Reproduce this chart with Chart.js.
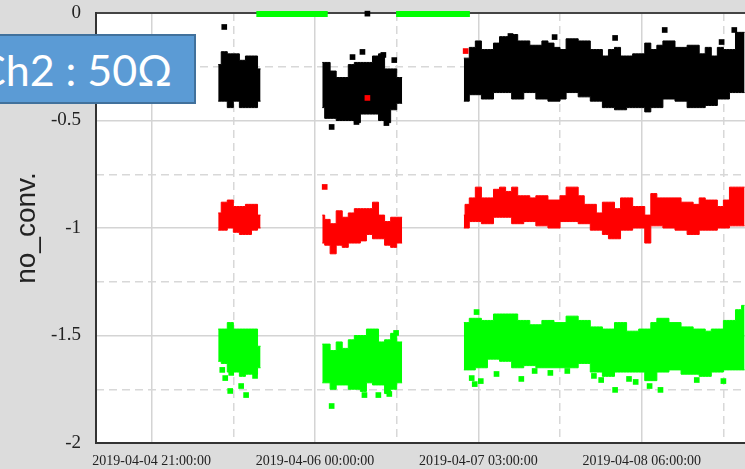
<!DOCTYPE html>
<html>
<head>
<meta charset="utf-8">
<script src="https://cdn.jsdelivr.net/npm/chart.js@4.4.1/dist/chart.umd.min.js"></script>
<style>
  html, body { margin: 0; padding: 0; background: #dcdcdc; overflow: hidden; width: 745px; height: 469px; }
  #wrap { position: relative; width: 800px; height: 469px; }
  #tag { position: absolute; left: -30px; top: 34px; width: 226px; height: 70px; box-sizing: border-box;
         background: #5b9bd5; border: 2px solid #41719c; color: #fff; font: 43px Lato, sans-serif;
         display: flex; align-items: center; justify-content: flex-end; padding-right: 22px; white-space: nowrap; }
</style>
</head>
<body>
<div id="wrap">
  <canvas id="chart" width="800" height="469"></canvas>
  <div id="tag">Ch2 : 50Ω</div>
</div>
<script>
// x values are hours since 2019-04-04 21:00:00
const t0 = Date.UTC(2019, 3, 4, 21);
const xMin = -9.2, xMax = 106.5;
const majorHours = [0, 27, 54, 81];
const minorHours = [13.5, 40.5, 67.5, 94.5];
const yMinor = [-1.75, -1.25, -0.75, -0.25];

// run 1
const hours1 = [11, 12, 13, 14, 15, 16, 17, 18];
const blkHi1 = [-0.24, -0.18, -0.19, -0.19, -0.22, -0.2, -0.2, -0.26];
const blkLo1 = [-0.41, -0.41, -0.44, -0.41, -0.44, -0.44, -0.44, -0.41];
const redHi1 = [-0.93, -0.88, -0.87, -0.9, -0.9, -0.89, -0.89, -0.94];
const redLo1 = [-1.01, -1.01, -1.0, -1.02, -1.03, -1.03, -1.01, -1.0];
const grnHi1 = [-1.47, -1.47, -1.44, -1.47, -1.47, -1.47, -1.47, -1.55];
const grnLo1 = [-1.62, -1.63, -1.67, -1.67, -1.69, -1.68, -1.68, -1.65];

// run 2
const hours2 = [28.2, 29, 30, 31, 32, 33, 34, 35, 36, 37, 38, 39, 40, 41, 41.4];
const blkHi2 = [-0.23, -0.23, -0.27, -0.3, -0.3, -0.24, -0.23, -0.23, -0.23, -0.2, -0.19, -0.26, -0.26, -0.3, -0.3];
const blkLo2 = [-0.44, -0.49, -0.49, -0.5, -0.5, -0.5, -0.51, -0.47, -0.47, -0.47, -0.5, -0.51, -0.45, -0.42, -0.42];
const redHi2 = [-0.94, -0.96, -0.98, -0.92, -0.95, -0.93, -0.91, -0.91, -0.91, -0.88, -0.94, -0.97, -0.95, -0.95, -0.95];
const redLo2 = [-1.07, -1.08, -1.12, -1.08, -1.09, -1.07, -1.07, -1.06, -1.03, -1.05, -1.05, -1.08, -1.09, -1.07, -1.07];
const grnHi2 = [-1.54, -1.54, -1.57, -1.53, -1.56, -1.52, -1.5, -1.5, -1.47, -1.47, -1.53, -1.52, -1.49, -1.53, -1.53];
const grnLo2 = [-1.72, -1.72, -1.75, -1.73, -1.73, -1.75, -1.75, -1.76, -1.72, -1.73, -1.73, -1.77, -1.75, -1.72, -1.72];

// run 3
const hours3 = [51.6, 52, 53, 54, 55, 56, 57, 58, 59, 60, 61, 62, 63, 64, 65, 66, 67, 68, 69, 70, 71, 72, 73, 74,
  75, 76, 77, 78, 79, 80, 81, 82, 83, 84, 85, 86, 87, 88, 89, 90, 91, 92, 93, 94, 95, 96, 97, 98];
const blkHi3 = [-0.21, -0.21, -0.16, -0.13, -0.17, -0.17, -0.14, -0.11, -0.11, -0.10, -0.13, -0.13, -0.15, -0.15, -0.13, -0.14,
  -0.16, -0.17, -0.12, -0.12, -0.13, -0.13, -0.17, -0.17, -0.2, -0.17, -0.16, -0.2, -0.2, -0.19, -0.19, -0.14,
  -0.17, -0.15, -0.13, -0.13, -0.16, -0.16, -0.15, -0.15, -0.19, -0.16, -0.2, -0.16, -0.17, -0.17, -0.09, -0.09];
const blkLo3 = [-0.41, -0.41, -0.38, -0.38, -0.4, -0.4, -0.37, -0.37, -0.37, -0.4, -0.4, -0.37, -0.37, -0.4, -0.4, -0.41,
  -0.41, -0.4, -0.37, -0.37, -0.39, -0.39, -0.41, -0.41, -0.44, -0.44, -0.45, -0.45, -0.44, -0.44, -0.44, -0.46,
  -0.44, -0.44, -0.4, -0.4, -0.41, -0.41, -0.44, -0.44, -0.44, -0.43, -0.43, -0.4, -0.4, -0.37, -0.37, -0.37];
const redHi3 = [-0.94, -0.89, -0.86, -0.81, -0.86, -0.86, -0.82, -0.81, -0.83, -0.81, -0.85, -0.85, -0.86, -0.85, -0.85, -0.87,
  -0.87, -0.85, -0.81, -0.81, -0.85, -0.89, -0.89, -0.93, -0.88, -0.88, -0.91, -0.86, -0.86, -0.9, -0.9, -0.94,
  -0.84, -0.86, -0.86, -0.86, -0.86, -0.88, -0.88, -0.89, -0.86, -0.87, -0.87, -0.9, -0.87, -0.81, -0.81, -0.81];
const redLo3 = [-1.0, -1.0, -0.97, -0.97, -0.98, -0.98, -0.95, -0.95, -0.95, -0.98, -0.98, -0.97, -0.97, -0.99, -0.99, -1.0,
  -1.0, -0.97, -0.97, -0.97, -0.98, -0.98, -1.01, -1.01, -1.03, -1.05, -1.05, -1.01, -1.01, -1.0, -1.0, -1.07,
  -0.99, -0.99, -1.0, -1.0, -1.01, -1.01, -1.03, -1.03, -1.01, -1.01, -1.01, -1.0, -1.0, -0.99, -0.99, -0.99];
const grnHi3 = [-1.44, -1.44, -1.42, -1.42, -1.43, -1.43, -1.4, -1.4, -1.4, -1.4, -1.43, -1.43, -1.45, -1.45, -1.43, -1.43,
  -1.44, -1.44, -1.41, -1.41, -1.43, -1.43, -1.46, -1.46, -1.47, -1.47, -1.44, -1.44, -1.48, -1.48, -1.47, -1.47,
  -1.44, -1.42, -1.42, -1.44, -1.44, -1.46, -1.46, -1.47, -1.47, -1.48, -1.47, -1.47, -1.43, -1.43, -1.38, -1.36];
const grnLo3 = [-1.66, -1.66, -1.66, -1.65, -1.65, -1.61, -1.61, -1.62, -1.62, -1.65, -1.65, -1.64, -1.64, -1.65, -1.65, -1.65,
  -1.65, -1.65, -1.65, -1.65, -1.63, -1.63, -1.67, -1.67, -1.69, -1.69, -1.67, -1.67, -1.67, -1.67, -1.67, -1.71,
  -1.71, -1.67, -1.67, -1.66, -1.66, -1.68, -1.68, -1.68, -1.69, -1.69, -1.67, -1.67, -1.66, -1.66, -1.66, -1.66];

// stray points
const blkDotHours = [12.0, 35.66, 33.2, 34.84, 38.3, 40.1, 29.75, 33.85, 38.8, 59.3, 66.6, 76.6, 84.8, 94.2, 96.3];
const blkDotVals = [-0.065, -0.003, -0.205, -0.181, -0.195, -0.219, -0.53, -0.507, -0.512, -0.107, -0.112, -0.116, -0.079, -0.135, -0.079];
const redDotHours = [28.6, 35.66, 51.9];
const redDotVals = [-0.809, -0.395, -0.177];
const grnDotHours = [11.67, 12.16, 13.15, 12.98, 14.79, 15.61, 17.09, 29.75, 37.47, 39.28, 35.17, 40.4, 52.9, 54.4, 53.4,
  57.0, 61.1, 63.3, 65.9, 68.7, 73.1, 74.3, 76.6, 78.9, 80.0, 82.3, 84.1, 90.1, 94.5, 53.7];
const grnDotVals = [-1.66, -1.698, -1.674, -1.758, -1.735, -1.777, -1.688, -1.828, -1.777, -1.772, -1.777, -1.488, -1.698, -1.712, -1.726,
  -1.679, -1.702, -1.665, -1.674, -1.665, -1.688, -1.707, -1.753, -1.702, -1.716, -1.735, -1.753, -1.707, -1.712, -1.391];
// green readings stuck at 0 during the gaps
const grnZeroStart = [17.3, 40.4];
const grnZeroEnd = [29.1, 52.6];
const grnZeroVal = -0.005;

const BLACK = '#000000', RED = '#ff0000', GREEN = '#00ff00';

function fmt(h) {
  const d = new Date(t0 + h * 3600000);
  const p = n => String(n).padStart(2, '0');
  return d.getUTCFullYear() + '-' + p(d.getUTCMonth() + 1) + '-' + p(d.getUTCDate()) + ' ' +
    p(d.getUTCHours()) + ':' + p(d.getUTCMinutes()) + ':' + p(d.getUTCSeconds());
}

function band(hours, hi, lo, color) {
  const common = { type: 'line', borderColor: color, backgroundColor: color, borderWidth: 1,
    pointRadius: 0, stepped: 'middle', order: 2 };
  return [
    Object.assign({}, common, { data: hours.map((h, i) => ({ x: h, y: lo[i] })), fill: false }),
    Object.assign({}, common, { data: hours.map((h, i) => ({ x: h, y: hi[i] })), fill: '-1' })
  ];
}

function dots(hours, vals, color, order) {
  return { type: 'scatter', data: hours.map((h, i) => ({ x: h, y: vals[i] })), pointStyle: 'rect',
    pointRadius: 4, pointBorderWidth: 0, backgroundColor: color, borderColor: color, clip: false, order: order };
}

const datasets = [].concat(
  band(hours1, blkHi1, blkLo1, BLACK), band(hours2, blkHi2, blkLo2, BLACK), band(hours3, blkHi3, blkLo3, BLACK),
  band(hours1, redHi1, redLo1, RED), band(hours2, redHi2, redLo2, RED), band(hours3, redHi3, redLo3, RED),
  band(hours1, grnHi1, grnLo1, GREEN), band(hours2, grnHi2, grnLo2, GREEN), band(hours3, grnHi3, grnLo3, GREEN),
  [dots(blkDotHours, blkDotVals, BLACK, 1), dots(redDotHours, redDotVals, RED, 0), dots(grnDotHours, grnDotVals, GREEN, 1)],
  grnZeroStart.map((s, i) => ({ type: 'line', data: [{ x: s, y: grnZeroVal }, { x: grnZeroEnd[i], y: grnZeroVal }],
    borderColor: GREEN, borderWidth: 6, pointRadius: 0, clip: false, order: 0 }))
);

const plotBg = {
  id: 'plotBg',
  beforeDraw(chart) {
    const { ctx, chartArea: a } = chart;
    ctx.save();
    ctx.fillStyle = '#ffffff';
    ctx.fillRect(a.left, a.top, a.right - a.left, a.bottom - a.top);
    ctx.restore();
  }
};

const serif = 'Liberation Serif';
new Chart(document.getElementById('chart'), {
  type: 'scatter',
  data: { datasets: datasets },
  plugins: [plotBg],
  options: {
    responsive: false,
    animation: false,
    layout: { padding: { top: 13, left: 0, right: 0, bottom: 0 } },
    plugins: { legend: { display: false }, tooltip: { enabled: false } },
    scales: {
      x: {
        type: 'linear', position: 'bottom', min: xMin, max: xMax,
        afterBuildTicks: s => { s.ticks = majorHours.map(v => ({ value: v })); },
        afterFit: s => { s.height = 26; },
        ticks: { callback: v => fmt(v), font: { family: serif, size: 14 }, color: '#222', padding: 10, autoSkip: false, maxRotation: 0 },
        grid: { color: '#d4d4d4', lineWidth: 1.5, drawTicks: false },
        border: { color: '#333', width: 2 }
      },
      x2: {
        type: 'linear', position: 'top', min: xMin, max: xMax,
        afterBuildTicks: s => { s.ticks = minorHours.map(v => ({ value: v })); },
        afterFit: s => { s.height = 0; },
        ticks: { display: false },
        grid: { color: '#d8d8d8', lineWidth: 1.5, drawTicks: false },
        border: { display: false, dash: [8, 5] }
      },
      y: {
        type: 'linear', min: -2, max: 0,
        afterFit: s => { s.width = 96; },
        ticks: { stepSize: 0.5, callback: v => String(v), font: { family: serif, size: 19 }, color: '#222', padding: 0 },
        grid: {
          color: c => (c.tick && c.tick.value === 0 ? '#444' : '#d4d4d4'),
          lineWidth: c => (c.tick && c.tick.value === 0 ? 2 : 1.5),
          drawTicks: true, tickLength: 15, tickColor: 'rgba(0,0,0,0)'
        },
        border: { color: '#333', width: 2 },
        title: { display: true, text: 'no_conv.', font: { family: 'Liberation Sans', size: 28 }, color: '#222', padding: { top: 10, bottom: 0 } }
      },
      y2: {
        type: 'linear', position: 'right', min: -2, max: 0,
        afterBuildTicks: s => { s.ticks = yMinor.map(v => ({ value: v })); },
        afterFit: s => { s.width = 0; },
        ticks: { display: false },
        grid: { color: '#d8d8d8', lineWidth: 1.5, drawTicks: false },
        border: { display: false, dash: [8, 5] }
      }
    }
  }
});
</script>
</body>
</html>
